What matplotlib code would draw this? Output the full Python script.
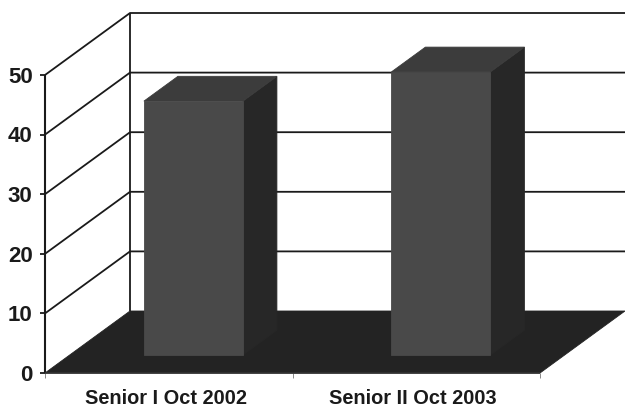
import matplotlib
matplotlib.use("Agg")
import matplotlib.pyplot as plt
from matplotlib.patches import Polygon

categories = ["Senior I Oct 2002", "Senior II Oct 2003"]
values = [42.6, 47.5]
yticks = [0, 10, 20, 30, 40, 50]

W, H = 625, 407
fig = plt.figure(figsize=(W / 100, H / 100), dpi=100, facecolor="white")
ax = fig.add_axes([45 / W, 1 - 373 / H, 495 / W, 298 / H])
ax.set_xlim(0, 2)
ax.set_ylim(0, 50)
ax.axis("off")

DX = 85 / 247.5   # depth offset in category units
DY = 62 / 5.96    # depth offset in value units
BW = 0.40         # bar width
D0, D1 = 0.29, 0.69  # bar depth range, as a fraction of the chart depth


def P(x, v, d=0.0):
    return (x + d * DX, v + d * DY)


def poly(pts, fc, z, ec=None):
    ax.add_patch(Polygon(pts, closed=True, fc=fc, ec=ec or fc, lw=0.6, zorder=z, clip_on=False))


def line(pts, z=1, lw=1.3, color="#1a1a1a"):
    ax.plot(*zip(*pts), color=color, lw=lw, zorder=z, clip_on=False, solid_capstyle="butt")


# floor
poly([P(0, 0), P(2, 0), P(2, 0, 1), P(0, 0, 1)], "#232323", 2)

# walls and gridlines
for t in yticks:
    if t > 0:
        line([P(0, t), P(0, t, 1), P(2, t, 1)])
    line([P(0, t), (-0.02, t)])
    ax.text(-0.05, t - 0.4, str(t), ha="right", va="center", fontsize=16,
            fontweight="bold", family="Liberation Sans", color="#1a1a1a", clip_on=False)
line([P(0, 0), P(0, 50)], lw=1.5)
line([P(0, 0, 1), P(0, 50, 1)], lw=1.3)
line([P(0, 0), P(2, 0)], z=3, lw=1.2, color="#333333")

# category ticks and labels
for x in [0, 1, 2]:
    line([(x, 0), (x, -0.8)], lw=0.7, color="#888888")
for i, c in enumerate(categories):
    ax.text(i * 0.998 + 0.49, -2.7, c, ha="center", va="top", fontsize=14.4,
            fontweight="bold", family="Liberation Sans", color="#1a1a1a", clip_on=False)

# bars
for i, v in enumerate(values):
    l, r = i + 0.5 - BW / 2, i + 0.5 + BW / 2
    poly([P(r, 0, D0), P(r, 0, D1), P(r, v, D1), P(r, v, D0)], "#272727", 4)
    poly([P(l, v, D0), P(r, v, D0), P(r, v, D1), P(l, v, D1)], "#3c3c3c", 4)
    poly([P(l, 0, D0), P(r, 0, D0), P(r, v, D0), P(l, v, D0)], "#494949", 5)

fig.savefig("out.png", dpi=100, facecolor="white")
